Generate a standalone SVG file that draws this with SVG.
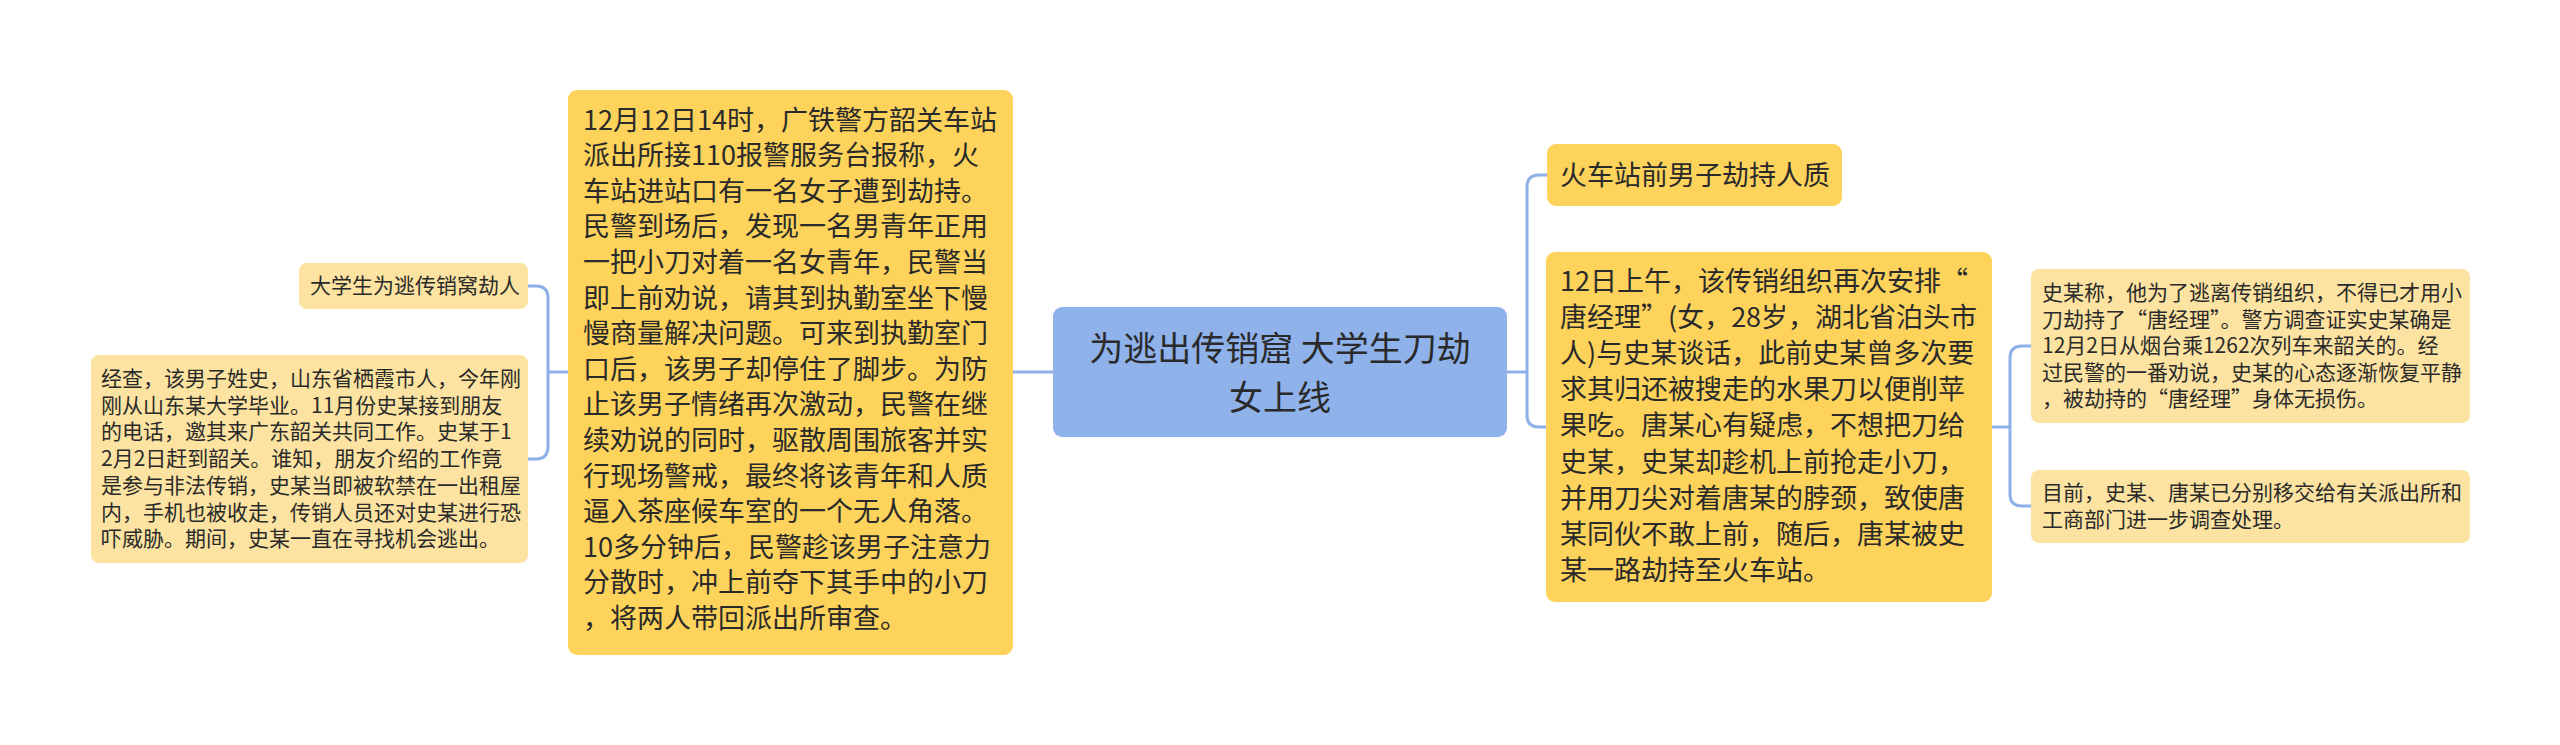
<svg xmlns="http://www.w3.org/2000/svg" width="2560" height="745" viewBox="0 0 2560 745">
<style>
text{font-family:"Noto Sans CJK SC","Noto Sans",sans-serif;fill:#2a2a2a}
.root{fill:#8FB2EA}
.strong{fill:#FDD35B}
.light{fill:#FCE3A1}
.t34{font-size:34px}
.t27{font-size:27px}
.t21{font-size:21px}
.conn{fill:none;stroke:#8DB0E8;stroke-width:3}
</style>
<rect width="2560" height="745" fill="#ffffff"/>
<g id="connectors">
<path class="conn" d="M1053 372 L1013 372"/>
<path class="conn" d="M568 372 L548 372"/>
<path class="conn" d="M528 286 L536 286 Q548 286 548 298 L548 446 Q548 459 536 459 L528 459"/>
<path class="conn" d="M1507 372 L1527 372"/>
<path class="conn" d="M1547 175 L1539 175 Q1527 175 1527 187 L1527 415 Q1527 427 1539 427 L1546 427"/>
<path class="conn" d="M1992 427 L2010 427"/>
<path class="conn" d="M2031 346 L2022 346 Q2010 346 2010 358 L2010 494 Q2010 506 2022 506 L2031 506"/>
</g>
<g id="root">
<rect class="root" x="1053" y="307" width="454" height="130" rx="9"/>
<text class="t34" x="1280" y="361" text-anchor="middle">为逃出传销窟 大学生刀劫</text>
<text class="t34" x="1280" y="410" text-anchor="middle">女上线</text>
</g>
<g id="node-left-main">
<rect class="strong" x="568" y="90" width="445" height="565" rx="9"/>
<text class="t27" x="583">
<tspan x="583" y="129.5">12月12日14时，广铁警方韶关车站</tspan>
<tspan x="583" y="165.1">派出所接110报警服务台报称，火</tspan>
<tspan x="583" y="200.7">车站进站口有一名女子遭到劫持。</tspan>
<tspan x="583" y="236.3">民警到场后，发现一名男青年正用</tspan>
<tspan x="583" y="271.9">一把小刀对着一名女青年，民警当</tspan>
<tspan x="583" y="307.5">即上前劝说，请其到执勤室坐下慢</tspan>
<tspan x="583" y="343.1">慢商量解决问题。可来到执勤室门</tspan>
<tspan x="583" y="378.7">口后，该男子却停住了脚步。为防</tspan>
<tspan x="583" y="414.3">止该男子情绪再次激动，民警在继</tspan>
<tspan x="583" y="449.9">续劝说的同时，驱散周围旅客并实</tspan>
<tspan x="583" y="485.5">行现场警戒，最终将该青年和人质</tspan>
<tspan x="583" y="521.1">逼入茶座候车室的一个无人角落。</tspan>
<tspan x="583" y="556.7">10多分钟后，民警趁该男子注意力</tspan>
<tspan x="583" y="592.3">分散时，冲上前夺下其手中的小刀</tspan>
<tspan x="583" y="627.9">，将两人带回派出所审查。</tspan>
</text>
</g>
<g id="node-left-1">
<rect class="light" x="299" y="263" width="229" height="46" rx="8"/>
<text class="t21" x="310" y="293">大学生为逃传销窝劫人</text>
</g>
<g id="node-left-2">
<rect class="light" x="91" y="355" width="437" height="208" rx="8"/>
<text class="t21">
<tspan x="101" y="386">经查，该男子姓史，山东省栖霞市人，今年刚</tspan>
<tspan x="101" y="412.7">刚从山东某大学毕业。11月份史某接到朋友</tspan>
<tspan x="101" y="439.4">的电话，邀其来广东韶关共同工作。史某于1</tspan>
<tspan x="101" y="466.1">2月2日赶到韶关。谁知，朋友介绍的工作竟</tspan>
<tspan x="101" y="492.8">是参与非法传销，史某当即被软禁在一出租屋</tspan>
<tspan x="101" y="519.5">内，手机也被收走，传销人员还对史某进行恐</tspan>
<tspan x="101" y="546.2">吓威胁。期间，史某一直在寻找机会逃出。</tspan>
</text>
</g>
<g id="node-right-1">
<rect class="strong" x="1547" y="144" width="295" height="62" rx="9"/>
<text class="t27" x="1560" y="185">火车站前男子劫持人质</text>
</g>
<g id="node-right-2">
<rect class="strong" x="1546" y="252" width="446" height="350" rx="9"/>
<text class="t27">
<tspan x="1560" y="291">12日上午，该传销组织再次安排“</tspan>
<tspan x="1560" y="327.1">唐经理”(女，28岁，湖北省泊头市</tspan>
<tspan x="1560" y="363.2">人)与史某谈话，此前史某曾多次要</tspan>
<tspan x="1560" y="399.3">求其归还被搜走的水果刀以便削苹</tspan>
<tspan x="1560" y="435.4">果吃。唐某心有疑虑，不想把刀给</tspan>
<tspan x="1560" y="471.5">史某，史某却趁机上前抢走小刀，</tspan>
<tspan x="1560" y="507.6">并用刀尖对着唐某的脖颈，致使唐</tspan>
<tspan x="1560" y="543.7">某同伙不敢上前，随后，唐某被史</tspan>
<tspan x="1560" y="579.8">某一路劫持至火车站。</tspan>
</text>
</g>
<g id="node-right-2a">
<rect class="light" x="2031" y="269" width="439" height="154" rx="8"/>
<text class="t21">
<tspan x="2042" y="300">史某称，他为了逃离传销组织，不得已才用小</tspan>
<tspan x="2042" y="326.5">刀劫持了“唐经理”。警方调查证实史某确是</tspan>
<tspan x="2042" y="353">12月2日从烟台乘1262次列车来韶关的。经</tspan>
<tspan x="2042" y="379.5">过民警的一番劝说，史某的心态逐渐恢复平静</tspan>
<tspan x="2042" y="406">，被劫持的“唐经理”身体无损伤。</tspan>
</text>
</g>
<g id="node-right-2b">
<rect class="light" x="2031" y="470" width="439" height="73" rx="8"/>
<text class="t21">
<tspan x="2042" y="500">目前，史某、唐某已分别移交给有关派出所和</tspan>
<tspan x="2042" y="526.5">工商部门进一步调查处理。</tspan>
</text>
</g>
</svg>
